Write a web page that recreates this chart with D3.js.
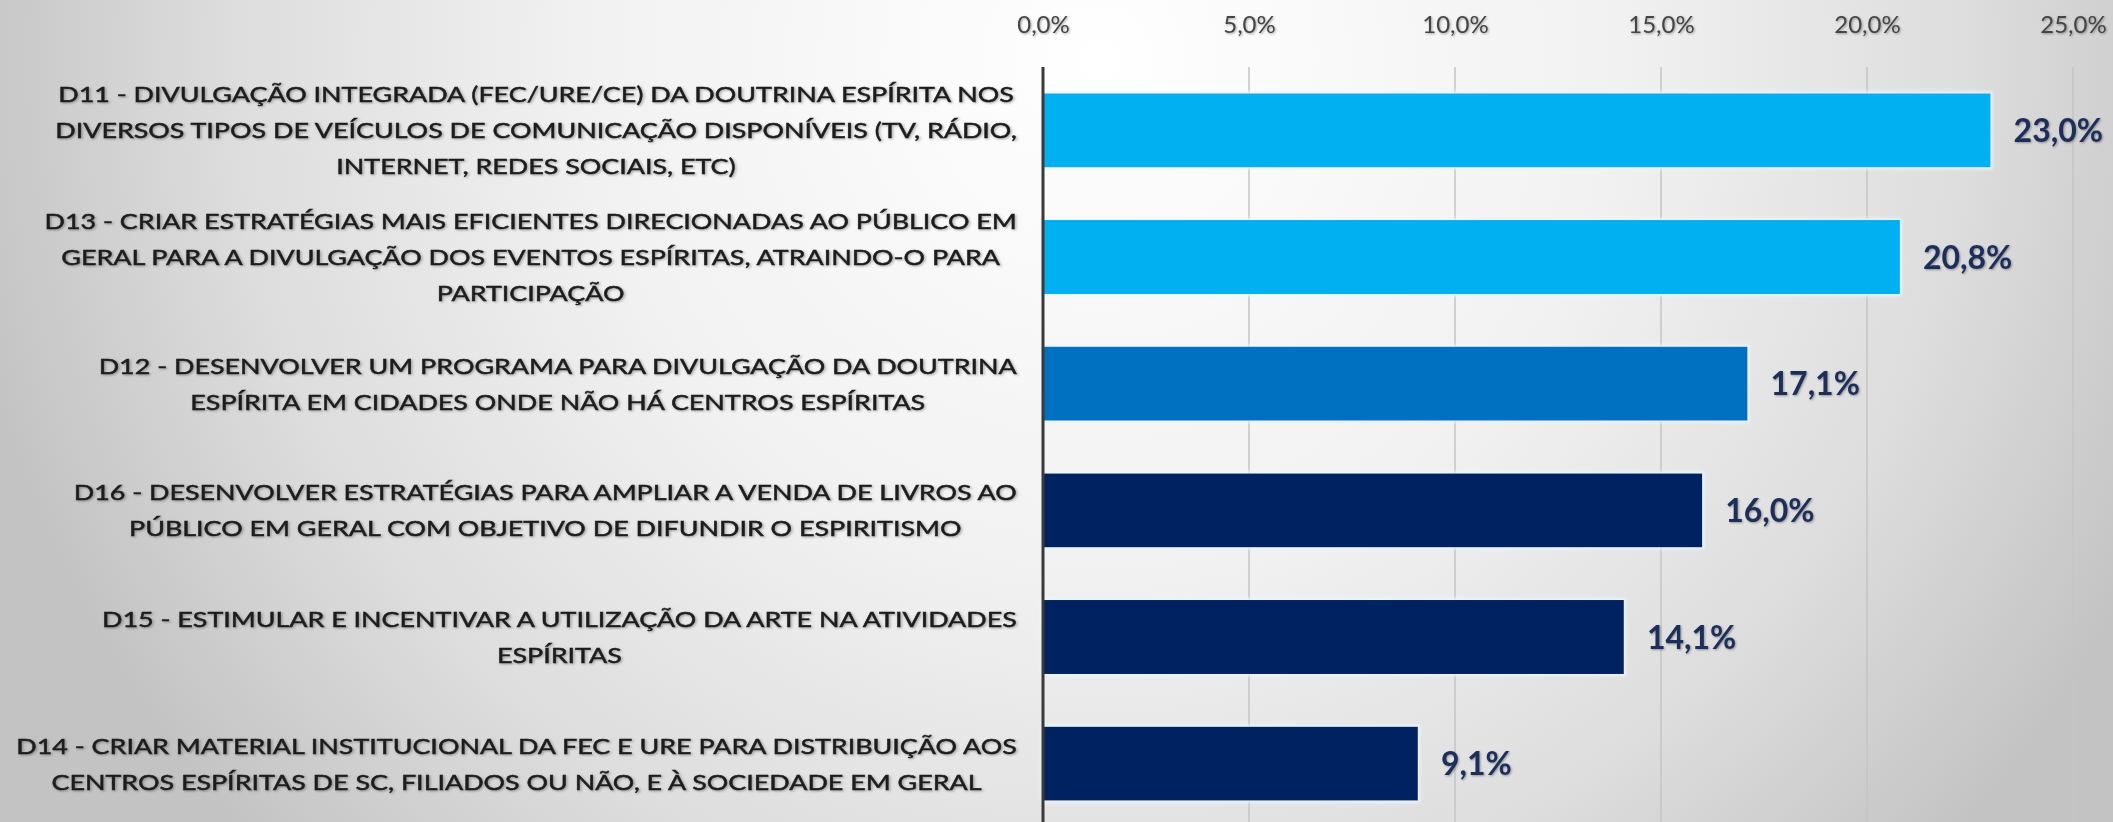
<!DOCTYPE html>
<html>
<head>
<meta charset="utf-8">
<script src="https://cdnjs.cloudflare.com/ajax/libs/d3/7.8.5/d3.min.js"></script>
<style>
    html, body { margin: 0; padding: 0; overflow: hidden; }
    svg { display: block; }
</style>
</head>
<body>
<div id="chart"></div>
<script>
// category labels, already broken in lines as in the original
var categoryLines = [
    ["D11 - DIVULGAÇÃO INTEGRADA (FEC/URE/CE) DA DOUTRINA ESPÍRITA NOS",
     "DIVERSOS TIPOS DE VEÍCULOS DE COMUNICAÇÃO DISPONÍVEIS (TV, RÁDIO,",
     "INTERNET, REDES SOCIAIS, ETC)"],
    ["D13 - CRIAR ESTRATÉGIAS MAIS EFICIENTES DIRECIONADAS AO PÚBLICO EM",
     "GERAL PARA A DIVULGAÇÃO DOS EVENTOS ESPÍRITAS, ATRAINDO-O PARA",
     "PARTICIPAÇÃO"],
    ["D12 - DESENVOLVER UM PROGRAMA PARA DIVULGAÇÃO DA DOUTRINA",
     "ESPÍRITA EM CIDADES ONDE NÃO HÁ CENTROS ESPÍRITAS"],
    ["D16 - DESENVOLVER ESTRATÉGIAS PARA AMPLIAR A VENDA DE LIVROS AO",
     "PÚBLICO EM GERAL COM OBJETIVO DE DIFUNDIR O ESPIRITISMO"],
    ["D15 - ESTIMULAR E INCENTIVAR A UTILIZAÇÃO DA ARTE NA ATIVIDADES",
     "ESPÍRITAS"],
    ["D14 - CRIAR MATERIAL INSTITUCIONAL DA FEC E URE PARA DISTRIBUIÇÃO AOS",
     "CENTROS ESPÍRITAS DE SC, FILIADOS OU NÃO, E À SOCIEDADE EM GERAL"]
];
var categories = ["D11", "D13", "D12", "D16", "D15", "D14"];
var values = [23.0, 20.8, 17.1, 16.0, 14.1, 9.1];
var barColors = ["#00B0F0", "#00B0F0", "#0070C0", "#002060", "#002060", "#002060"];
var tickValues = [0, 5, 10, 15, 20, 25];

(function () {
    var width = 2113, height = 822;
    var margin = {top: 67, left: 1043, right: 40, labelRight: 1017, labelLeft: 16};
    var lineGap = 36;

    var fmt = function (v) { return d3.format(".1f")(v).replace(".", ",") + "%"; };

    var svg = d3.select("#chart").append("svg")
        .attr("width", width)
        .attr("height", height);

    var defs = svg.append("defs");

    //background gradient, white at top centre, grey at the sides
    var grad = defs.append("radialGradient")
        .attr("id", "bg")
        .attr("gradientUnits", "userSpaceOnUse")
        .attr("cx", 1100).attr("cy", 60).attr("r", 1160);
    grad.append("stop").attr("offset", "0").attr("stop-color", "#ffffff");
    grad.append("stop").attr("offset", "0.45").attr("stop-color", "#f1f1f1");
    grad.append("stop").attr("offset", "0.75").attr("stop-color", "#dddddd");
    grad.append("stop").attr("offset", "1").attr("stop-color", "#c3c3c3");

    //soft shadow for the texts
    var shadow = defs.append("filter").attr("id", "soft")
        .attr("x", "-5%").attr("y", "-30%").attr("width", "110%").attr("height", "160%");
    shadow.append("feDropShadow")
        .attr("dx", 1).attr("dy", 1).attr("stdDeviation", 1.2)
        .attr("flood-color", "#000").attr("flood-opacity", 0.35);

    //glow round the bars
    var glow = defs.append("filter").attr("id", "glow")
        .attr("x", "-5%").attr("y", "-10%").attr("width", "110%").attr("height", "120%");
    glow.append("feMorphology").attr("in", "SourceAlpha").attr("operator", "dilate").attr("radius", 2).attr("result", "d");
    glow.append("feGaussianBlur").attr("in", "d").attr("stdDeviation", 1.5).attr("result", "b");
    glow.append("feFlood").attr("flood-color", "#e6f7ff").attr("flood-opacity", 0.9);
    glow.append("feComposite").attr("in2", "b").attr("operator", "in").attr("result", "g");
    var merge = glow.append("feMerge");
    merge.append("feMergeNode").attr("in", "g");
    merge.append("feMergeNode").attr("in", "SourceGraphic");

    svg.append("rect")
        .attr("width", width).attr("height", height)
        .attr("fill", "url(#bg)");

    //scales
    var x = d3.scaleLinear()
        .domain([0, 25])
        .range([margin.left, margin.left + 1030]);

    var y = d3.scaleBand()
        .domain(categories)
        .range([margin.top, margin.top + 760])
        .paddingInner(0.416)
        .paddingOuter(0.208);

    //gridlines
    svg.append("g").attr("class", "grid")
        .selectAll("line")
        .data(tickValues.slice(1))
        .enter().append("line")
        .attr("x1", function (d) { return x(d); })
        .attr("x2", function (d) { return x(d); })
        .attr("y1", margin.top)
        .attr("y2", height)
        .attr("stroke", "#c4c4c4")
        .attr("stroke-width", 1.5);

    //top axis with labels only
    var xAxis = d3.axisTop(x)
        .tickValues(tickValues)
        .tickSize(0)
        .tickPadding(0)
        .tickFormat(fmt);

    var axisG = svg.append("g")
        .attr("class", "x axis")
        .attr("transform", "translate(0,33)")
        .call(xAxis);
    axisG.select(".domain").remove();
    axisG.selectAll("text")
        .attr("dy", 0)
        .style("font-family", "Lato, 'Open Sans', sans-serif")
        .style("font-size", "24px")
        .attr("fill", "#444444")
        .attr("filter", "url(#soft)");

    //bars
    svg.append("g").attr("class", "bars")
        .selectAll("rect")
        .data(values)
        .enter().append("rect")
        .attr("x", x(0))
        .attr("y", function (d, i) { return y(categories[i]); })
        .attr("width", function (d) { return x(d) - x(0); })
        .attr("height", y.bandwidth())
        .attr("fill", function (d, i) { return barColors[i]; })
        .attr("filter", "url(#glow)");

    //vertical category axis line
    svg.append("line")
        .attr("x1", x(0)).attr("x2", x(0))
        .attr("y1", margin.top).attr("y2", height)
        .attr("stroke", "#3a3a3a")
        .attr("stroke-width", 3);

    //value labels
    svg.append("g").attr("class", "values")
        .selectAll("text")
        .data(values)
        .enter().append("text")
        .attr("x", function (d) { return x(d) + 23; })
        .attr("y", function (d, i) { return y(categories[i]) + y.bandwidth() / 2; })
        .attr("dy", "0.36em")
        .style("font-family", "Lato, 'Open Sans', sans-serif")
        .style("font-weight", "bold")
        .style("font-size", "32px")
        .attr("fill", "#1f2d5a")
        .attr("filter", "url(#soft)")
        .text(fmt);

    //category labels: each block centred, block right-aligned to the axis
    var labelsG = svg.append("g").attr("class", "labels");
    var blocks = labelsG.selectAll("g")
        .data(categoryLines)
        .enter().append("g");

    blocks.each(function (lines, i) {
        var g = d3.select(this);
        var cy = y(categories[i]) + y.bandwidth() / 2;
        g.selectAll("text")
            .data(lines)
            .enter().append("text")
            .attr("y", function (d, j) { return cy + (j - (lines.length - 1) / 2) * lineGap; })
            .attr("dy", "0.36em")
            .attr("text-anchor", "middle")
            .style("font-family", "Lato, 'Open Sans', sans-serif")
            .style("font-size", "22px")
            .attr("fill", "#1c1c1c")
            .attr("stroke", "#1c1c1c")
            .attr("stroke-width", 0.45)
            .attr("filter", "url(#soft)")
            .text(function (d) { return d; });
    });

    //stretch horizontally so the widest line fills the label area
    var widest = 0;
    labelsG.selectAll("text").each(function () {
        widest = Math.max(widest, this.getComputedTextLength());
    });
    var sx = (margin.labelRight - margin.labelLeft) / widest;

    blocks.each(function () {
        var g = d3.select(this);
        var w = 0;
        g.selectAll("text").each(function () { w = Math.max(w, this.getComputedTextLength()); });
        var cx = margin.labelRight - (w * sx) / 2;
        g.attr("transform", "translate(" + cx + ",0) scale(" + sx + ",1)");
    });
})();
</script>
</body>
</html>
